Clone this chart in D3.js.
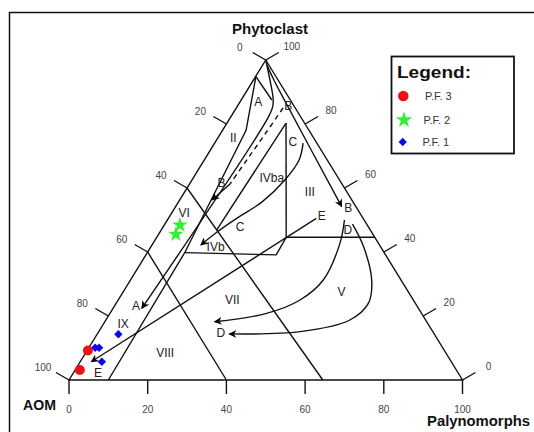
<!DOCTYPE html>
<html><head><meta charset="utf-8">
<script src="https://cdn.jsdelivr.net/npm/d3@7"></script>
<style>body{margin:0;background:#fff}svg{display:block}</style>
</head><body>
<script>
// All positions are ternary values [Phytoclast %, Palynomorphs %]; AOM = 100 - both.
const ticks = [0, 20, 40, 60, 80, 100];
const pf3 = [[9.2, 0.2], [3.1, 1.2]];
const pf2 = [[48.4, 4.0], [45.5, 4.4]];
const pf1 = [[14.3, 5.4], [10.1, 1.6], [10.1, 2.6], [5.7, 5.5]];
const legendItems = ["P.F. 3", "P.F. 2", "P.F. 1"];

// field boundaries
const lineAom60 = [[40, 0], [0, 40]];
const lineAom40 = [[60, 0], [0, 64.5]];
const lineBand = [[0, 10], [40, 9.5], [78, 6], [94.8, 0.1]];
const lineTop = [[94.8, 0.1], [87.5, 7.8]];
const lineIVbBase = [[39.8, 9.6], [39.1, 33.1], [44.6, 32.9]];
const lineVertical = [[80.3, 15.0], [44.6, 32.9]];
const lineHorizontal = [[44.6, 32.9], [44.6, 55.4]];
const linePal14 = [[46.9, 14.1], [80.3, 15.0]];

// pathways (arrows)
const arrowA = [[100, 0], [93.75, 4.2], [88.3, 7.7], [85.6, 9.0], [81.9, 9.6], [22.4, 7.3]];
const arrowBRight = [[98.4, 1.1], [93.75, 5.2], [89.4, 9.2], [54.2, 42.2]];
const dashedB = [[85, 11.9], [76.9, 11.4], [68.75, 10.8], [61.25, 10.3]];
const arrowBHead = [[61.25, 10.3], [56.25, 8.2]];
const arrowC = [[74.0, 22.5], [68.75, 24.1], [62.5, 23.6], [55.6, 21.2], [50.6, 17.4], [46.25, 14.5], [42.2, 12.4]];
const arrowE = [[50.5, 37.6], [5.7, 2.8]];
const arrowD1 = [[50, 45.0], [42.7, 47.5], [31.25, 49.0], [25, 46.2], [20.8, 39.8], [18.2, 27.9]];
const arrowD2 = [[48.7, 47.7], [41.7, 54.0], [31.25, 61.3], [24.0, 64.1], [18.75, 62.0], [15.1, 51.2], [14.4, 33.5]];

const fieldLabels = [
  ["A", 87.0, 4.6], ["II", 75.5, 4.0], ["C", 74.4, 19.7], ["B", 85.6, 12.9],
  ["IVba", 63.1, 20.0], ["III", 58.8, 31.8], ["B", 53.7, 44.1], ["B", 61.5, 8.0],
  ["E", 51.3, 38.6], ["VI", 52.1, 3.2], ["C", 47.9, 19.5], ["D", 46.9, 47.4],
  ["IVb", 41.7, 16.4], ["VII", 25, 29.0], ["V", 27.5, 55.5], ["A", 23.1, 5.5],
  ["IX", 17.5, 5.0], ["D", 14.6, 31.3], ["VIII", 8.3, 20.3], ["E", 2.1, 6.3]
];

const W = 534, H = 432;
const FONT = "Liberation Sans, Arial, sans-serif";
const svg = d3.select("body").append("svg").attr("width", W).attr("height", H);
const xs = d3.scaleLinear().domain([0, 100]).range([69, 462.5]);
const ys = d3.scaleLinear().domain([0, 100]).range([380, 60]);
const proj = d => [xs(d[1] + d[0] / 2), ys(d[0])];
const line = d3.line().x(d => proj(d)[0]).y(d => proj(d)[1]);
const curve = d3.line().x(d => proj(d)[0]).y(d => proj(d)[1]).curve(d3.curveCatmullRom.alpha(0.5));

// frame
svg.append("path").attr("d", "M9.5,432 V12.5 H534").attr("fill", "none").attr("stroke", "#111").attr("stroke-width", 1.5);

const defs = svg.append("defs");
defs.append("marker").attr("id", "ah").attr("viewBox", "0 0 10 10").attr("refX", 9).attr("refY", 5)
  .attr("markerWidth", 8).attr("markerHeight", 8).attr("markerUnits", "userSpaceOnUse").attr("orient", "auto")
  .append("path").attr("d", "M0,0 L10,5 L0,10 L3,5 Z").attr("fill", "#000");

const g = svg.append("g").attr("fill", "none").attr("stroke", "#111").attr("stroke-width", 1.4);
g.append("path").attr("d", line([[100, 0], [0, 0], [0, 100], [100, 0]]));
[lineAom60, lineAom40, lineBand, lineTop, lineIVbBase, lineVertical, lineHorizontal, linePal14]
  .forEach(l => g.append("path").attr("d", line(l)));

g.append("path").attr("d", curve(arrowA)).attr("marker-end", "url(#ah)");
g.append("path").attr("d", curve(arrowBRight)).attr("marker-end", "url(#ah)");
g.append("path").attr("d", curve(dashedB)).attr("stroke-dasharray", "5,4");
g.append("path").attr("d", line(arrowBHead)).attr("marker-end", "url(#ah)");
g.append("path").attr("d", curve(arrowC)).attr("marker-end", "url(#ah)");
g.append("path").attr("d", line(arrowE)).attr("marker-end", "url(#ah)");
g.append("path").attr("d", curve(arrowD1)).attr("marker-end", "url(#ah)");
g.append("path").attr("d", curve(arrowD2)).attr("marker-end", "url(#ah)");

// ticks
const tg = svg.append("g").attr("stroke", "#111").attr("stroke-width", 1.4);
const lab = svg.append("g").attr("font-family", FONT).attr("font-size", 10).attr("fill", "#444")
  .attr("text-anchor", "middle").attr("dominant-baseline", "central");
ticks.forEach(t => {
  const b = proj([0, t]);
  tg.append("line").attr("x1", b[0]).attr("y1", b[1]).attr("x2", b[0]).attr("y2", b[1] + 14);
  lab.append("text").attr("x", b[0]).attr("y", b[1] + 29).text(t);
  const l = proj([100 - t, 0]);
  tg.append("line").attr("x1", l[0]).attr("y1", l[1]).attr("x2", l[0] - 13).attr("y2", l[1] - 7.5);
  lab.append("text").attr("x", l[0] - 26).attr("y", l[1] - 13).text(t);
  const r = proj([t, 100 - t]);
  tg.append("line").attr("x1", r[0]).attr("y1", r[1]).attr("x2", r[0] + 13).attr("y2", r[1] - 7.5);
  lab.append("text").attr("x", r[0] + 26).attr("y", r[1] - 13.5).text(t);
});

// field labels
svg.append("g").attr("font-family", FONT).attr("font-size", 12).attr("fill", "#222")
  .attr("text-anchor", "middle").attr("dominant-baseline", "central")
  .selectAll("text").data(fieldLabels).join("text")
  .attr("x", d => proj([d[1], d[2]])[0]).attr("y", d => proj([d[1], d[2]])[1]).text(d => d[0]);

// axis titles
const tt = svg.append("g").attr("font-family", FONT).attr("font-weight", "bold").attr("fill", "#111")
  .attr("lengthAdjust", "spacingAndGlyphs");
tt.append("text").attr("x", 232).attr("y", 34).attr("font-size", 14).attr("textLength", 76).attr("lengthAdjust", "spacingAndGlyphs").text("Phytoclast");
tt.append("text").attr("x", 23).attr("y", 410).attr("font-size", 15).attr("textLength", 33).attr("lengthAdjust", "spacingAndGlyphs").text("AOM");
tt.append("text").attr("x", 427).attr("y", 426).attr("font-size", 14).attr("textLength", 103).attr("lengthAdjust", "spacingAndGlyphs").text("Palynomorphs");

// markers
const star = d3.symbol().type(d3.symbolStar).size(75);
const diamond = d3.symbol().type(d3.symbolDiamond2).size(45);
const pg = svg.append("g");
pg.selectAll(".s").data(pf2).join("path").attr("d", star).attr("fill", "#33ee33")
  .attr("transform", d => `translate(${proj(d)})`);
pg.selectAll(".d").data(pf1).join("path").attr("d", diamond).attr("fill", "#0a0ae6")
  .attr("transform", d => `translate(${proj(d)})`);
pg.selectAll(".c").data(pf3).join("circle").attr("r", 5).attr("fill", "#ee1111")
  .attr("cx", d => proj(d)[0]).attr("cy", d => proj(d)[1]);

// legend
const lg = svg.append("g");
lg.append("rect").attr("x", 391.5).attr("y", 56.5).attr("width", 122.5).attr("height", 97)
  .attr("fill", "#fff").attr("stroke", "#111").attr("stroke-width", 1.8);
lg.append("text").attr("x", 397).attr("y", 78).attr("font-family", FONT)
  .attr("font-weight", "bold").attr("font-size", 16).attr("textLength", 74).attr("lengthAdjust", "spacingAndGlyphs")
  .attr("fill", "#111").text("Legend:");
const ly = [96, 120, 142];
lg.append("circle").attr("cx", 403.3).attr("cy", ly[0]).attr("r", 5.3).attr("fill", "#ee1111");
lg.append("path").attr("d", d3.symbol().type(d3.symbolStar).size(85)).attr("fill", "#33ee33").attr("transform", `translate(404,${ly[1]})`);
lg.append("path").attr("d", d3.symbol().type(d3.symbolDiamond2).size(45)).attr("fill", "#0a0ae6").attr("transform", `translate(402.7,${ly[2]})`);
lg.selectAll(".lt").data(legendItems).join("text").attr("x", (d, i) => [425, 423.5, 422.5][i]).attr("y", (d, i) => ly[i])
  .attr("dominant-baseline", "central").attr("font-family", FONT).attr("font-size", 11)
  .attr("fill", "#333").text(d => d);
</script>
</body></html>
